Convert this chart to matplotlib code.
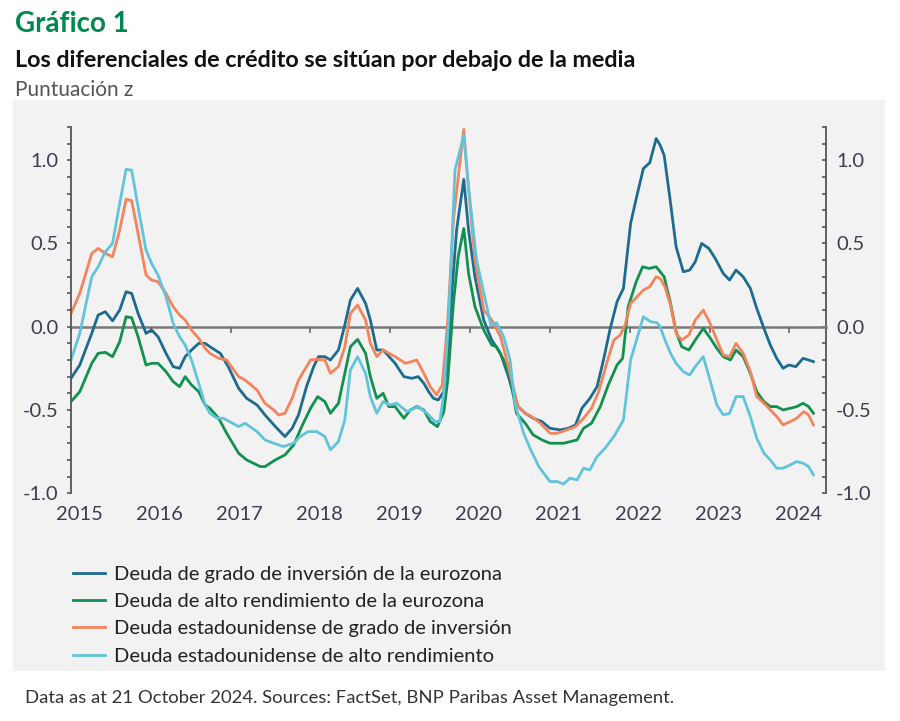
import matplotlib
matplotlib.use("Agg")
import matplotlib.pyplot as plt
from matplotlib.patches import Rectangle
from matplotlib.ticker import MultipleLocator, FuncFormatter

plt.rcParams["font.family"] = ["Lato", "DejaVu Sans"]
plt.rcParams["axes.unicode_minus"] = False

# fractional years / z-scores
eur_ig_x = [2015.00, 2015.11, 2015.26, 2015.34, 2015.43, 2015.52, 2015.61, 2015.69, 2015.76, 2015.84,
            2015.94, 2016.01, 2016.09, 2016.19, 2016.28, 2016.36, 2016.43, 2016.51, 2016.60, 2016.68,
            2016.74, 2016.87, 2016.97, 2017.10, 2017.20, 2017.33, 2017.43, 2017.56, 2017.68, 2017.77,
            2017.85, 2017.95, 2018.04, 2018.10, 2018.18, 2018.25, 2018.35, 2018.43, 2018.50, 2018.59,
            2018.69, 2018.75, 2018.83, 2018.91, 2019.06, 2019.17, 2019.27, 2019.35, 2019.42, 2019.48,
            2019.54, 2019.60, 2019.67, 2019.72, 2019.77, 2019.83, 2019.92, 2019.98, 2020.06, 2020.17,
            2020.27, 2020.38, 2020.48, 2020.58, 2020.69, 2020.79, 2020.90, 2021.00, 2021.13, 2021.23,
            2021.32, 2021.40, 2021.50, 2021.59, 2021.67, 2021.75, 2021.84, 2021.92, 2022.01, 2022.09,
            2022.17, 2022.25, 2022.33, 2022.38, 2022.43, 2022.50, 2022.58, 2022.67, 2022.75, 2022.82,
            2022.90, 2022.99, 2023.07, 2023.17, 2023.25, 2023.33, 2023.42, 2023.51, 2023.59, 2023.68,
            2023.76, 2023.84, 2023.92, 2023.99, 2024.08, 2024.17, 2024.24, 2024.30]
eur_ig = [-0.31, -0.23, -0.04, 0.07, 0.09, 0.035, 0.10, 0.21, 0.20, 0.08,
          -0.04, -0.02, -0.06, -0.16, -0.24, -0.25, -0.18, -0.14, -0.10, -0.10,
          -0.12, -0.16, -0.24, -0.37, -0.43, -0.47, -0.53, -0.60, -0.66, -0.61,
          -0.53, -0.36, -0.24, -0.18, -0.18, -0.20, -0.14, 0.01, 0.16, 0.23,
          0.14, 0.04, -0.14, -0.14, -0.22, -0.30, -0.31, -0.30, -0.34, -0.39,
          -0.43, -0.44, -0.39, -0.16, 0.20, 0.58, 0.885, 0.58, 0.30, 0.04,
          -0.08, -0.16, -0.30, -0.47, -0.52, -0.55, -0.57, -0.61, -0.62, -0.61,
          -0.59, -0.49, -0.43, -0.36, -0.20, -0.02, 0.15, 0.23, 0.62, 0.79,
          0.95, 0.985, 1.13, 1.09, 1.03, 0.78, 0.48, 0.33, 0.34, 0.39,
          0.50, 0.47, 0.41, 0.32, 0.28, 0.34, 0.30, 0.23, 0.11, -0.01,
          -0.11, -0.19, -0.25, -0.23, -0.24, -0.19, -0.20, -0.21]

eur_hy_x = [2015.00, 2015.11, 2015.26, 2015.34, 2015.43, 2015.52, 2015.61, 2015.69, 2015.76, 2015.84,
            2015.94, 2016.01, 2016.09, 2016.19, 2016.28, 2016.36, 2016.43, 2016.51, 2016.60, 2016.68,
            2016.74, 2016.85, 2016.95, 2017.10, 2017.20, 2017.37, 2017.43, 2017.56, 2017.68, 2017.79,
            2017.89, 2018.00, 2018.09, 2018.18, 2018.25, 2018.35, 2018.43, 2018.50, 2018.59, 2018.69,
            2018.75, 2018.83, 2018.91, 2018.98, 2019.06, 2019.17, 2019.25, 2019.33, 2019.42, 2019.50,
            2019.59, 2019.67, 2019.72, 2019.79, 2019.85, 2019.92, 2019.98, 2020.06, 2020.17, 2020.27,
            2020.33, 2020.42, 2020.50, 2020.58, 2020.69, 2020.79, 2020.90, 2021.00, 2021.17, 2021.34,
            2021.42, 2021.52, 2021.63, 2021.73, 2021.84, 2021.91, 2021.98, 2022.08, 2022.16, 2022.24,
            2022.33, 2022.38, 2022.43, 2022.51, 2022.58, 2022.65, 2022.74, 2022.82, 2022.92, 2023.01,
            2023.09, 2023.17, 2023.26, 2023.33, 2023.42, 2023.51, 2023.59, 2023.68, 2023.76, 2023.84,
            2023.92, 2024.01, 2024.09, 2024.17, 2024.24, 2024.30]
eur_hy = [-0.45, -0.39, -0.22, -0.16, -0.154, -0.18, -0.09, 0.06, 0.054, -0.06,
          -0.23, -0.22, -0.22, -0.27, -0.33, -0.36, -0.30, -0.35, -0.39, -0.47,
          -0.49, -0.55, -0.64, -0.76, -0.80, -0.84, -0.84, -0.80, -0.77, -0.71,
          -0.60, -0.49, -0.42, -0.45, -0.52, -0.46, -0.28, -0.12, -0.076, -0.16,
          -0.30, -0.43, -0.40, -0.48, -0.48, -0.55, -0.50, -0.48, -0.50, -0.57,
          -0.60, -0.51, -0.32, 0.14, 0.42, 0.59, 0.32, 0.12, -0.02, -0.11,
          -0.12, -0.20, -0.30, -0.52, -0.58, -0.65, -0.68, -0.70, -0.70, -0.68,
          -0.61, -0.58, -0.48, -0.35, -0.23, -0.19, 0.12, 0.27, 0.36, 0.35,
          0.36, 0.33, 0.30, 0.14, -0.03, -0.12, -0.14, -0.08, -0.01, -0.07,
          -0.13, -0.18, -0.20, -0.14, -0.18, -0.28, -0.39, -0.45, -0.48, -0.48,
          -0.50, -0.49, -0.48, -0.46, -0.48, -0.52]

us_ig_x = [2015.00, 2015.11, 2015.26, 2015.34, 2015.43, 2015.52, 2015.61, 2015.69, 2015.76, 2015.84,
           2015.94, 2016.01, 2016.09, 2016.19, 2016.28, 2016.36, 2016.43, 2016.51, 2016.60, 2016.68,
           2016.74, 2016.85, 2016.95, 2017.10, 2017.18, 2017.33, 2017.43, 2017.54, 2017.60, 2017.68,
           2017.77, 2017.85, 2018.00, 2018.08, 2018.18, 2018.25, 2018.35, 2018.43, 2018.50, 2018.59,
           2018.69, 2018.75, 2018.83, 2018.91, 2019.06, 2019.19, 2019.33, 2019.42, 2019.50, 2019.58,
           2019.65, 2019.72, 2019.79, 2019.87, 2019.92, 2019.97, 2020.06, 2020.17, 2020.27, 2020.38,
           2020.48, 2020.60, 2020.69, 2020.77, 2020.88, 2021.00, 2021.09, 2021.21, 2021.32, 2021.42,
           2021.52, 2021.61, 2021.71, 2021.80, 2021.88, 2021.94, 2022.01, 2022.09, 2022.17, 2022.25,
           2022.33, 2022.38, 2022.44, 2022.51, 2022.58, 2022.65, 2022.74, 2022.82, 2022.92, 2023.01,
           2023.09, 2023.17, 2023.25, 2023.33, 2023.42, 2023.51, 2023.59, 2023.68, 2023.76, 2023.84,
           2023.92, 2024.01, 2024.09, 2024.18, 2024.24, 2024.30]
us_ig = [0.08, 0.20, 0.44, 0.47, 0.44, 0.42, 0.58, 0.765, 0.757, 0.56,
         0.31, 0.28, 0.27, 0.20, 0.12, 0.07, 0.04, -0.02, -0.07, -0.13,
         -0.16, -0.19, -0.20, -0.30, -0.32, -0.38, -0.46, -0.50, -0.53, -0.52,
         -0.43, -0.32, -0.20, -0.196, -0.20, -0.28, -0.24, -0.12, 0.08, 0.13,
         0.04, -0.10, -0.18, -0.14, -0.18, -0.22, -0.20, -0.28, -0.36, -0.41,
         -0.35, 0.04, 0.64, 0.98, 1.185, 0.88, 0.40, 0.10, 0.04, -0.06,
         -0.24, -0.48, -0.52, -0.54, -0.58, -0.64, -0.64, -0.62, -0.60, -0.55,
         -0.49, -0.39, -0.22, -0.08, -0.05, 0.01, 0.14, 0.18, 0.22, 0.24,
         0.30, 0.29, 0.24, 0.13, -0.04, -0.08, -0.05, 0.04, 0.10, 0.016,
         -0.08, -0.17, -0.18, -0.10, -0.16, -0.27, -0.42, -0.46, -0.50, -0.54,
         -0.59, -0.57, -0.55, -0.51, -0.53, -0.59]

us_hy_x = [2015.00, 2015.11, 2015.26, 2015.34, 2015.43, 2015.52, 2015.61, 2015.69, 2015.76, 2015.84,
           2015.94, 2016.01, 2016.09, 2016.19, 2016.28, 2016.36, 2016.43, 2016.51, 2016.60, 2016.68,
           2016.74, 2016.83, 2016.91, 2017.10, 2017.18, 2017.33, 2017.43, 2017.54, 2017.66, 2017.79,
           2017.87, 2017.97, 2018.08, 2018.18, 2018.25, 2018.35, 2018.43, 2018.50, 2018.59, 2018.69,
           2018.75, 2018.83, 2018.91, 2018.99, 2019.08, 2019.21, 2019.35, 2019.46, 2019.56, 2019.62,
           2019.67, 2019.73, 2019.81, 2019.92, 2019.98, 2020.08, 2020.19, 2020.26, 2020.33, 2020.42,
           2020.50, 2020.56, 2020.67, 2020.75, 2020.86, 2021.00, 2021.09, 2021.17, 2021.25, 2021.34,
           2021.42, 2021.50, 2021.59, 2021.69, 2021.80, 2021.92, 2022.01, 2022.09, 2022.17, 2022.26,
           2022.34, 2022.38, 2022.44, 2022.51, 2022.58, 2022.67, 2022.75, 2022.82, 2022.92, 2023.01,
           2023.09, 2023.17, 2023.25, 2023.33, 2023.42, 2023.51, 2023.59, 2023.68, 2023.76, 2023.84,
           2023.92, 2024.01, 2024.09, 2024.17, 2024.24, 2024.30]
us_hy = [-0.20, -0.04, 0.30, 0.36, 0.45, 0.50, 0.74, 0.945, 0.94, 0.72,
         0.46, 0.38, 0.31, 0.18, 0.02, -0.06, -0.11, -0.20, -0.34, -0.47,
         -0.52, -0.55, -0.55, -0.60, -0.58, -0.63, -0.68, -0.70, -0.72, -0.70,
         -0.66, -0.63, -0.63, -0.66, -0.74, -0.69, -0.56, -0.26, -0.18, -0.28,
         -0.42, -0.52, -0.45, -0.47, -0.46, -0.51, -0.48, -0.52, -0.57, -0.57,
         -0.40, 0.04, 0.94, 1.15, 0.84, 0.40, 0.16, 0.01, 0.024, -0.06,
         -0.20, -0.46, -0.64, -0.73, -0.84, -0.93, -0.93, -0.945, -0.91, -0.92,
         -0.85, -0.86, -0.78, -0.73, -0.66, -0.56, -0.20, -0.07, 0.06, 0.03,
         0.024, 0.0, -0.08, -0.16, -0.22, -0.27, -0.29, -0.24, -0.18, -0.33,
         -0.47, -0.53, -0.52, -0.42, -0.42, -0.54, -0.67, -0.76, -0.80, -0.85,
         -0.85, -0.83, -0.81, -0.82, -0.84, -0.89]

labels = [
    "Deuda de grado de inversión de la eurozona",
    "Deuda de alto rendimiento de la eurozona",
    "Deuda estadounidense de grado de inversión",
    "Deuda estadounidense de alto rendimiento",
]
colors = ["#1d6b8f", "#12904f", "#f4845c", "#62c4da"]
years = list(range(2015, 2025))

W, H = 900, 721
fig = plt.figure(figsize=(W / 100, H / 100), dpi=100)

# grey panel behind chart and legend
fig.patches.append(Rectangle((13 / W, 1 - 671 / H), 872 / W, 571 / H, transform=fig.transFigure,
                             facecolor="#f2f2f2", edgecolor="none", zorder=-5))

ax = fig.add_axes([71 / W, 1 - 493.2 / H, 755.2 / W, 366.3 / H])
ax.set_facecolor("none")
ax.set_zorder(2)

series = [(eur_ig_x, eur_ig), (eur_hy_x, eur_hy), (us_ig_x, us_ig), (us_hy_x, us_hy)]
handles = []
for (xs, ys), lab, col in zip(series, labels, colors):
    h, = ax.plot(xs, ys, color=col, lw=2.0, label=lab, solid_joinstyle="round")
    handles.append(h)

ax.set_xlim(2015.0, 2024.46)
ax.set_ylim(-1.0, 1.2)

fmt = FuncFormatter(lambda v, p: f"{v:.1f}")
ax.yaxis.set_major_locator(MultipleLocator(0.5))
ax.yaxis.set_minor_locator(MultipleLocator(0.1))
ax.yaxis.set_major_formatter(fmt)
ax.tick_params(axis="y", which="both", direction="out", length=3, width=1.2, color="#555555",
               labelcolor="#3d3d4f", labelsize=14.5, pad=6)

# zero line carries the year ticks
ax.spines["bottom"].set_position(("data", 0))
ax.spines["bottom"].set_color("#7a7a7a")
ax.spines["bottom"].set_linewidth(1.8)
ax.spines["bottom"].set_zorder(1)
ax.spines["top"].set_visible(False)
ax.spines["right"].set_visible(False)
ax.spines["left"].set_color("#555555")
ax.spines["left"].set_linewidth(1.3)
ax.set_xticks(years)
ax.tick_params(axis="x", direction="out", length=4, width=1.2, color="#666666", labelbottom=False)

for yr in years:
    ax.text(yr + 0.11, -0.057, str(yr), transform=ax.get_xaxis_transform(), ha="center", va="center",
            fontsize=14.5, color="#3d3d4f")

ax2 = ax.twinx()
ax2.set_zorder(1)
ax2.set_ylim(-1.0, 1.2)
ax2.yaxis.set_major_locator(MultipleLocator(0.5))
ax2.yaxis.set_minor_locator(MultipleLocator(0.1))
ax2.yaxis.set_major_formatter(fmt)
ax2.tick_params(axis="y", which="both", direction="in", length=3, width=1.2, color="#555555",
                labelcolor="#3d3d4f", labelsize=14.5, pad=7)
for s in ["left", "top", "bottom"]:
    ax2.spines[s].set_visible(False)
ax2.spines["right"].set_color("#555555")
ax2.spines["right"].set_linewidth(1.3)

leg = fig.legend(handles=handles, labels=labels, loc="upper left",
                 bbox_to_anchor=(73 / W, 1 - 566 / H), frameon=False, fontsize=14.5,
                 handlelength=1.6, handletextpad=0.45, labelspacing=0.5,
                 borderpad=0, borderaxespad=0)
for t in leg.get_texts():
    t.set_color("#222222")

fig.text(15 / W, 1 - 32 / H, "Gráfico 1", fontsize=20, fontweight="bold", color="#00884f", va="baseline")
fig.text(15 / W, 1 - 67 / H, "Los diferenciales de crédito se sitúan por debajo de la media",
         fontsize=16.8, fontweight="bold", color="#111111", va="baseline")
fig.text(15 / W, 1 - 96 / H, "Puntuación z", fontsize=15, color="#555555", va="baseline")
fig.text(25 / W, 1 - 703 / H,
         "Data as at 21 October 2024. Sources: FactSet, BNP Paribas Asset Management.",
         fontsize=13.3, color="#333333", va="baseline")

fig.savefig("out.png", dpi=100)
